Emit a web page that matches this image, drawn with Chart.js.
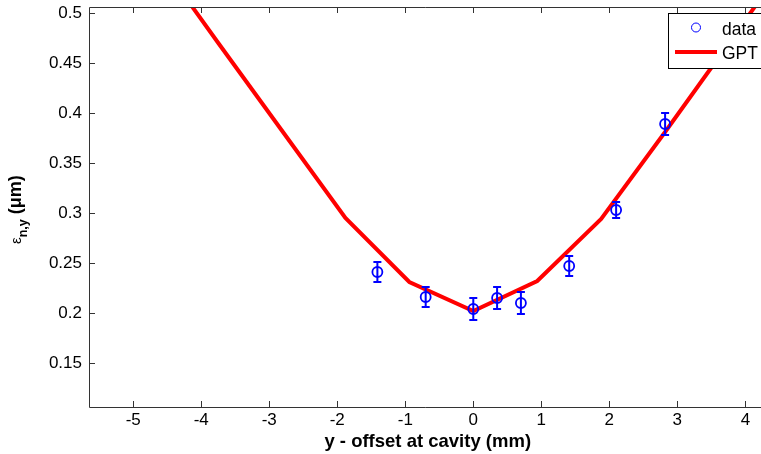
<!DOCTYPE html>
<html>
<head>
<meta charset="utf-8">
<script src="https://cdn.jsdelivr.net/npm/chart.js@4/dist/chart.umd.min.js"></script>
<style>
  html, body { margin: 0; padding: 0; background: #fff; }
  #wrap { width: 761px; height: 454px; }
</style>
</head>
<body>
<div id="wrap"><canvas id="chart"></canvas></div>
<script>
// measured points (offset in mm, emittance in um, error bar half height)
const offsets = [-1.41, -0.70, 0, 0.35, 0.70, 1.41, 2.10, 2.82];
const emittance = [0.241, 0.216, 0.204, 0.215, 0.210, 0.247, 0.303, 0.389];
const emitErr = [0.010, 0.010, 0.011, 0.011, 0.011, 0.010, 0.008, 0.011];

// GPT simulation
const gptOffsets = [-4.70, -3.76, -2.82, -1.88, -0.94, 0, 0.94, 1.88, 2.82, 3.76, 4.70];
const gptEmittance = [0.560, 0.471, 0.383, 0.295, 0.231, 0.202, 0.232, 0.294, 0.381, 0.470, 0.560];

const xTicks = [-5, -4, -3, -2, -1, 0, 1, 2, 3, 4];
const yTicks = [0.15, 0.2, 0.25, 0.3, 0.35, 0.4, 0.45, 0.5];
const yTickLabels = ["0.15", "0.2", "0.25", "0.3", "0.35", "0.4", "0.45", "0.5"];

const FONT = "'Liberation Sans', Arial, sans-serif";
const BLUE = "#0000ff";
const RED = "#ff0000";

// box + inward ticks like matlab
const frame = {
  id: "frame",
  afterDraw(chart) {
    const { ctx, chartArea: { top, bottom, left, right }, scales: { x, y } } = chart;
    ctx.save();
    ctx.strokeStyle = "#333";
    ctx.lineWidth = 1;
    ctx.beginPath();
    ctx.moveTo(right + 5, top + 0.5);
    ctx.lineTo(left + 0.5, top + 0.5);
    ctx.lineTo(left + 0.5, bottom + 0.5);
    ctx.lineTo(right + 5, bottom + 0.5);
    xTicks.forEach((v) => {
      const px = Math.round(x.getPixelForValue(v)) + 0.5;
      ctx.moveTo(px, bottom);
      ctx.lineTo(px, bottom - 6);
      ctx.moveTo(px, top);
      ctx.lineTo(px, top + 6);
    });
    yTicks.forEach((v) => {
      const py = Math.round(y.getPixelForValue(v)) + 0.5;
      ctx.moveTo(left, py);
      ctx.lineTo(left + 6, py);
    });
    ctx.stroke();

    // axis titles
    ctx.fillStyle = "#000";
    ctx.font = "bold 18.5px " + FONT;
    ctx.textAlign = "center";
    ctx.textBaseline = "alphabetic";
    ctx.fillText("y - offset at cavity (mm)", x.getPixelForValue(-0.67), 447);

    ctx.translate(21, 244);
    ctx.rotate(-Math.PI / 2);
    ctx.textAlign = "left";
    ctx.font = "15px " + FONT;
    ctx.fillText("ε", 0, 0);
    let w = ctx.measureText("ε").width;
    ctx.font = "bold 12.5px " + FONT;
    ctx.fillText("n,y", w, 6);
    w += ctx.measureText("n,y").width;
    ctx.font = "bold 18px " + FONT;
    ctx.fillText(" (μm)", w, 0);
    ctx.restore();
  },
};

// error bars for the data series
const errorBars = {
  id: "errorBars",
  afterDatasetsDraw(chart) {
    const { ctx, scales: { x, y } } = chart;
    ctx.save();
    ctx.strokeStyle = BLUE;
    ctx.lineWidth = 2;
    offsets.forEach((v, i) => {
      const px = x.getPixelForValue(v);
      const y1 = y.getPixelForValue(emittance[i] + emitErr[i]);
      const y2 = y.getPixelForValue(emittance[i] - emitErr[i]);
      ctx.beginPath();
      ctx.moveTo(px, y1);
      ctx.lineTo(px, y2);
      ctx.moveTo(px - 4, y1);
      ctx.lineTo(px + 4, y1);
      ctx.moveTo(px - 4, y2);
      ctx.lineTo(px + 4, y2);
      ctx.stroke();
    });
    ctx.restore();
  },
};

const legendBox = {
  id: "legendBox",
  afterDraw(chart) {
    const { ctx } = chart;
    ctx.save();
    ctx.fillStyle = "#fff";
    ctx.strokeStyle = "#000";
    ctx.lineWidth = 1;
    ctx.fillRect(668, 13, 120, 55);
    ctx.strokeRect(668.5, 13.5, 120, 55);
    ctx.strokeStyle = BLUE;
    ctx.beginPath();
    ctx.arc(696, 27.5, 4.5, 0, Math.PI * 2);
    ctx.stroke();
    ctx.strokeStyle = RED;
    ctx.lineWidth = 4;
    ctx.beginPath();
    ctx.moveTo(675, 52);
    ctx.lineTo(717, 52);
    ctx.stroke();
    ctx.fillStyle = "#000";
    ctx.font = "17.5px " + FONT;
    ctx.textBaseline = "alphabetic";
    ctx.fillText("data", 722, 35);
    ctx.fillText("GPT", 722, 59);
    ctx.restore();
  },
};

const noPad = (scale) => {
  scale.paddingTop = 0;
  scale.paddingBottom = 0;
  scale.paddingLeft = 0;
  scale.paddingRight = 0;
};

new Chart(document.getElementById("chart"), {
  type: "scatter",
  data: {
    datasets: [
      {
        label: "data",
        data: offsets.map((v, i) => ({ x: v, y: emittance[i] })),
        pointStyle: "circle",
        pointRadius: 5,
        pointBorderWidth: 1.8,
        pointBorderColor: BLUE,
        pointBackgroundColor: "rgba(0,0,0,0)",
        showLine: false,
        order: 0,
      },
      {
        label: "GPT",
        type: "line",
        data: gptOffsets.map((v, i) => ({ x: v, y: gptEmittance[i] })),
        borderColor: RED,
        borderWidth: 4,
        pointRadius: 0,
        tension: 0,
        fill: false,
        order: 1,
      },
    ],
  },
  options: {
    responsive: true,
    maintainAspectRatio: false,
    animation: false,
    events: [],
    layout: { autoPadding: false, padding: { top: 7, right: 0, left: 0, bottom: 0 } },
    scales: {
      x: {
        type: "linear",
        min: -5.65,
        max: 4.23,
        grid: { display: false, drawTicks: false },
        border: { display: false },
        ticks: {
          color: "#000",
          font: { family: FONT, size: 17 },
          padding: 3,
          maxRotation: 0,
          callback: (v) => String(v),
        },
        afterBuildTicks: (scale) => {
          scale.ticks = xTicks.map((v) => ({ value: v }));
        },
        afterFit: (scale) => {
          scale.height = 47;
          noPad(scale);
        },
      },
      y: {
        type: "linear",
        min: 0.106,
        max: 0.506,
        grid: { display: false, drawTicks: false },
        border: { display: false },
        ticks: {
          color: "#000",
          font: { family: FONT, size: 17 },
          padding: 7,
          callback: (v) => {
            const i = yTicks.findIndex((t) => Math.abs(t - v) < 1e-6);
            return i >= 0 ? yTickLabels[i] : "";
          },
        },
        afterBuildTicks: (scale) => {
          scale.ticks = yTicks.map((v) => ({ value: v }));
        },
        afterFit: (scale) => {
          scale.width = 89;
          noPad(scale);
        },
      },
    },
    plugins: {
      legend: { display: false },
      tooltip: { enabled: false },
    },
  },
  plugins: [errorBars, frame, legendBox],
});
</script>
</body>
</html>
